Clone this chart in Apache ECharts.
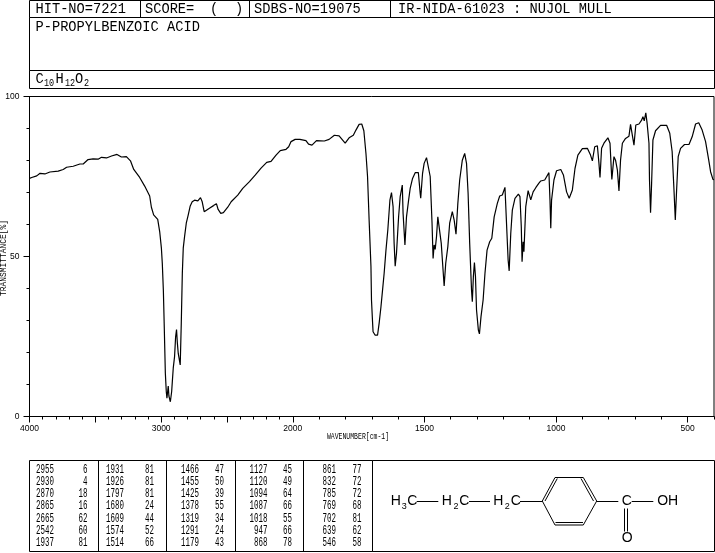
<!DOCTYPE html>
<html><head><meta charset="utf-8">
<style>html,body{margin:0;padding:0;background:#fff}#c{width:715px;height:553px}</style>
<script src="https://cdn.jsdelivr.net/npm/echarts@6/dist/echarts.min.js"></script>
</head><body><div id="c"></div>
<script>
const wavenumbers = [4000,3983,3945,3920,3883,3845,3782,3744,3718,3668,3617,3592,3555,3517,3479,3453,3415,3377,3335,3302,3264,3233,
3208,3163,3125,3087,3074,3057,3026,3011,2998,2991,2983,2976,2968,2961,2956,2946,2941,2930,2920,2915,2908,2898,2890,2883,2877,2870,2862,2855,2847,2839,2832,2822,2809,2794,2779,2764,2746,2721,2701,2688,2673,2658,2633,2602,2580,2567,2547,2527,2494,2468,2418,2380,2329,2284,2241,2198,2165,2127,2095,2051,2031,2013,1991,1973,1950,1940,1927,1910,1880,1862,1842,
1824,1801,1786,1770,1760,1748,1738,1730,1722,1716,1710,1703,1701,1697,1695,1687,1678,1672,1665,1659,1653,1646,1639,1631,1625,1619,1615,1611,1606,1598,1592,1584,1581,1574,1568,1560,1554,1545,1535,1523,1516,1514,1507,1501,1492,1485,1478,1471,1467,1463,1459,1454,1449,1443,1436,1430,1425,1419,1411,1404,1394,1387,1380,1373,1366,1356,1347,1340,1334,1328,1321,1318,1314,1310,1306,1302,1295,1291,1285,1277,1270,1262,1252,1244,1235,1223,1214,1204,1194,1187,1182,1178,1172,1166,1156,1143,1137,1132,1129,1125,1122,1115,1106,1103,1096,1087,1077,1065,
1058,1043,1027,1023,1020,1017,1008,998,982,972,960,950,938,928,917,900,881,869,862,853,843,837,833,827,818,803,795,790,788,780,774,767,761,755,748,736,723,717,711,704,697,685,675,670,665,659,654,647,645,641,637,632,622,603,580,568,559,552,547,542,536,527,512,495,483,470,458,445,432,420,413,404,400];
const transmittance = [74.4,74.7,75.2,76.0,75.8,76.4,76.7,77.2,77.9,78.2,78.9,78.9,80.3,80.5,80.4,81.0,80.8,81.4,81.9,81.1,81.2,79.9,
77.2,74.7,72.0,68.9,65.4,63.0,61.6,57.8,52.6,47.7,39.3,27.6,13.5,7.8,5.7,9.5,6.4,4.6,7.8,10.9,15.1,18.7,24.9,27.2,23.1,19.7,19.2,16.1,29.1,44.8,52.6,56.2,60.4,63.0,65.8,67.1,67.6,67.4,68.4,67.1,64.0,63.8,65.1,65.9,66.5,64.7,63.5,63.7,65.4,67.1,69.2,71.3,73.4,75.5,77.6,79.4,79.7,81.7,83.1,83.5,84.3,85.9,86.6,86.6,86.2,85.1,84.8,86.2,86.1,86.6,87.9,
87.7,85.4,87.1,87.9,89.5,91.3,91.4,89.3,82.2,75.0,61.4,46.8,36.4,29.6,26.5,25.4,25.4,29.1,34.3,39.5,44.7,52.0,58.3,67.6,70.0,65.6,54.1,47.0,51.0,62.4,68.7,72.3,63.5,53.6,62.4,67.6,71.3,74.4,76.2,76.2,69.7,68.2,76.0,79.1,80.9,80.7,75.0,60.4,49.4,53.6,52.2,56.2,62.4,61.9,54.1,46.8,40.8,47.9,53.1,60.4,64.0,61.4,57.0,66.6,73.9,80.1,82.2,79.1,69.7,54.1,39.5,35.9,43.7,48.1,43.7,33.3,27.0,25.8,31.2,36.4,44.7,52.0,54.6,55.7,62.4,66.6,68.9,69.2,71.6,58.3,48.9,45.5,57.2,64.5,68.2,69.5,68.7,59.3,48.4,54.6,51.5,65.6,70.6,69.7,67.7,70.2,71.5,72.9,
73.6,73.9,76.2,67.6,58.8,67.6,73.9,76.8,77.2,75.5,70.2,68.2,70.8,77.5,81.7,83.7,83.8,81.7,79.9,84.3,84.6,79.1,74.7,83.8,85.4,87.1,85.4,77.0,74.1,81.2,80.1,77.0,70.5,80.1,85.4,86.9,87.6,91.3,91.1,84.8,91.1,91.4,92.6,93.7,92.4,94.9,91.6,85.4,73.9,63.7,72.8,86.4,89.3,91.0,91.0,88.5,82.8,70.8,61.4,70.8,81.2,83.8,85.0,85.0,87.4,91.4,91.8,89.5,85.9,80.1,76.5,74.1,74.0];
const xLabelValues = [4000,3000,2000,1500,1000,500];
const xMajorTicks = [4000,3500,3000,2500,2000,1500,1000,500];
const xMinorTicks = [4000,3900,3800,3700,3600,3500,3400,3300,3200,3100,3000,2900,2800,2700,2600,2500,2400,2300,2200,2100,2000,1900,1800,1700,1600,1500,1400,1300,1200,1100,1000,900,800,700,600,500,400];
const yLabels = [0,50,100];
const hitNo = 'HIT-NO=7221', score = 'SCORE=', sdbs = 'SDBS-NO=19075', method = 'IR-NIDA-61023 : NUJOL MULL';
const compound = 'P-PROPYLBENZOIC ACID';
const xTitle = 'WAVENUMBER[cm-1]', yTitle = 'TRANSMITTANCE[%]';
const peakColumns = [
 [[2955,6],[2930,4],[2870,18],[2865,16],[2665,62],[2542,60],[1937,81]],
 [[1931,81],[1926,81],[1797,81],[1680,24],[1609,44],[1574,52],[1514,66]],
 [[1466,47],[1455,50],[1425,39],[1378,55],[1319,34],[1291,24],[1179,43]],
 [[1127,45],[1120,49],[1094,64],[1087,66],[1018,55],[947,66],[868,78]],
 [[861,77],[832,72],[785,72],[769,68],[702,81],[639,62],[546,58]]
];

// The wavenumber axis changes scale at 2000 (2000-400 is drawn at twice the scale of 4000-2000).
const warp = w => w >= 2000 ? (4000 - w) / 2 : 1000 + (2000 - w);
const unwarp = v => v <= 1000 ? 4000 - v * 2 : 2000 - (v - 1000);

const MONO = 'Liberation Mono', SANS = 'Liberation Sans';
const black = '#000';
const els = [];
const box = (x, y, w, h) => els.push({type:'rect', silent:true, shape:{x,y,width:w,height:h}, style:{fill:'none',stroke:black,lineWidth:1}});
const seg = (x1,y1,x2,y2) => els.push({type:'line', silent:true, shape:{x1,y1,x2,y2}, style:{stroke:black,lineWidth:1}});
const txt = (text,x,y,size,opts={}) => els.push({type:'text', silent:true, x, y, scaleX:opts.sx||1, rotation:opts.rotation||0,
  style:{text, fill:black, fontSize:size, fontFamily:opts.font||MONO, align:opts.align||'left', verticalAlign:'middle'}});

// header
const H = 15, HS = 0.913;
box(29.5,0.5,685,17); box(29.5,17.5,685,53); box(29.5,70.5,685,18);
seg(140.5,0.5,140.5,17.5); seg(249.5,0.5,249.5,17.5); seg(390.5,0.5,390.5,17.5);
txt(hitNo,35.5,9.5,H,{sx:HS}); txt(score,145,9.5,H,{sx:HS}); txt('(',210,9.5,H,{sx:HS}); txt(')',235,9.5,H,{sx:HS});
txt(sdbs,254,9.5,H,{sx:HS}); txt(method,398,9.5,H,{sx:HS});
txt(compound,35.5,27,H,{sx:HS});
txt('C',35.5,79.5,H,{sx:HS}); txt('10',44,83,10,{sx:0.85}); txt('H',55.5,79.5,H,{sx:HS}); txt('12',65,83,10,{sx:0.85}); txt('O',75,79.5,H,{sx:HS}); txt('2',84,83,10,{sx:0.85});

// axis titles
txt(xTitle,358,437,8.5,{sx:0.76,align:'center'});
txt(yTitle,3.5,258,9,{sx:0.88,align:'center',rotation:Math.PI/2});

// peak table
box(29.5,460.5,343,91);
[98.5,166.5,235.5,303.5].forEach(x => seg(x,460.5,x,551.5));
const colNumX = [54,124,199,267.5,336], colValX = [87.5,154,224,292,361.5];
peakColumns.forEach((col,c) => col.forEach((row,r) => {
  const y = 469.5 + r * 12.2;
  txt(String(row[0]),colNumX[c],y,12.5,{sx:0.6,align:'right'});
  txt(String(row[1]),colValX[c],y,12.5,{sx:0.6,align:'right'});
}));

// structure
box(372.5,460.5,342,91);
const atom = (t,x,y,size=14) => txt(t,x,y,size,{font:SANS,align:'center'});
atom('H',395.7,501); atom('3',404.3,507,9); atom('C',412.3,501);
atom('H',446.7,501); atom('2',456,507,9); atom('C',464.3,501);
atom('H',498.3,501); atom('2',507.3,507,9); atom('C',515.7,501);
atom('C',626.7,501); atom('OH',667.7,501); atom('O',627.3,538.5);
seg(416.7,501.5,438.3,501.5); seg(469,501.5,490,501.5); seg(520,501.5,542.3,501.5);
seg(542.3,501,555,477.5); seg(555,477.5,583.3,477.5); seg(583.3,477.5,596.7,501);
seg(596.7,501,583.3,525); seg(583.3,525,555,525); seg(555,525,542.3,501);
seg(545,501,557.3,478.5); seg(581,478.5,593.5,501); seg(555.5,522.5,583,522.5);
seg(596.7,501.5,618.3,501.5); seg(631.7,501.5,653.3,501.5);
seg(624.5,508.5,624.5,531.5); seg(627.5,508.5,627.5,531.5);

const grid = {left:29.5, top:96.5, width:684.5, height:320, show:true, borderColor:black, borderWidth:1, backgroundColor:'transparent'};
const axisBase = {min:warp(4000), max:warp(400), splitLine:{show:false}, axisLine:{show:true,lineStyle:{color:black,width:1}}};
const chart = echarts.init(document.getElementById('c'), null, {renderer:'canvas'});
chart.setOption({
  animation:false, backgroundColor:'#fff', tooltip:{show:false}, legend:{show:false},
  grid,
  xAxis:[
    Object.assign({type:'value', position:'bottom', axisLabel:{show:false},
      axisTick:{show:true,length:3,lineStyle:{color:black},customValues:xMinorTicks.map(warp)}}, axisBase),
    Object.assign({type:'value', position:'bottom', 
      axisTick:{show:true,length:6,lineStyle:{color:black},customValues:xMajorTicks.map(warp)},
      axisLabel:{show:true,color:black,fontFamily:SANS,fontSize:8.5,margin:8,hideOverlap:false,
        customValues:xLabelValues.map(warp),formatter:v=>String(Math.round(unwarp(v)))}}, axisBase)
  ],
  yAxis:[
    {type:'value',min:0,max:100,interval:10,splitLine:{show:false},axisLabel:{show:false},
      axisLine:{show:true,lineStyle:{color:black}},axisTick:{show:true,length:3,lineStyle:{color:black}}},
    {type:'value',position:'left',min:0,max:100,interval:50,splitLine:{show:false},
      axisLine:{show:true,lineStyle:{color:black}},axisTick:{show:true,length:6,lineStyle:{color:black}},
      axisLabel:{show:true,color:black,fontFamily:SANS,fontSize:8.5,margin:10,showMinLabel:true,showMaxLabel:true,
        customValues:yLabels}}
  ],
  series:[{type:'line',xAxisIndex:0,yAxisIndex:0,symbol:'none',smooth:false,silent:true,clip:true,
    lineStyle:{color:black,width:1.2},
    data:wavenumbers.map((w,i)=>[warp(w),transmittance[i]])}],
  graphic:{elements:els}
});
</script></body></html>
